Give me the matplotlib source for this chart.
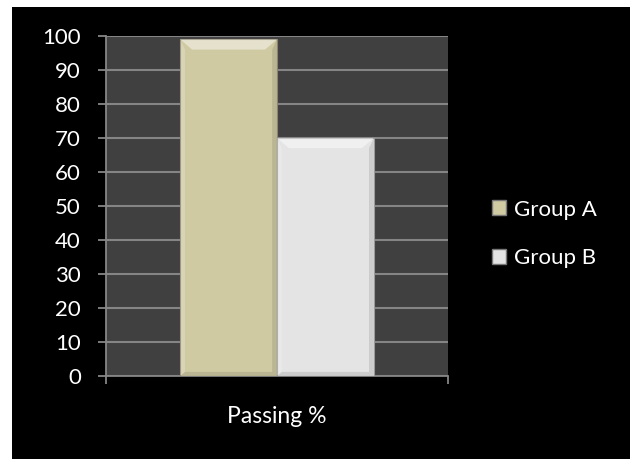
import matplotlib.pyplot as plt
from matplotlib.patches import Patch, Polygon

categories = ['Passing %']
groups = ['Group A', 'Group B']
values = [99, 70]
colors = ['#d0caa3', '#e4e4e4']
yticks = list(range(0, 101, 10))

plt.rcParams['font.family'] = ['Lato', 'DejaVu Sans']

fig = plt.figure(figsize=(6.3, 4.59), dpi=100)
fig.patch.set_facecolor('white')
# black chart area (the picture is a cropped screenshot with a white rim)
fig.patches.append(plt.Rectangle((12 / 630, 0), 1, 1 - 7 / 459, transform=fig.transFigure,
                                 facecolor='black', edgecolor='none', zorder=-10))

ax = fig.add_axes([106 / 630, 1 - 376 / 459, (448 - 106) / 630, (376 - 36) / 459])
ax.set_facecolor('#404040')

width = 0.283
offsets = [-width / 2, width / 2]
for val, off, col in zip(values, offsets, colors):
    bars = ax.bar(off, val, width=width, color=col, edgecolor='#8a8670' if col == colors[0] else '#9a9a9a',
                  linewidth=0.8, zorder=3)
    # simple bevel round the bar
    b = bars[0]
    x0, x1 = b.get_x(), b.get_x() + b.get_width()
    h = b.get_height()
    dx = 0.035
    dy = 3.0
    ax.add_patch(Polygon([(x0, h), (x1, h), (x1 - dx, h - dy), (x0 + dx, h - dy)],
                         closed=True, facecolor='white', alpha=0.45, edgecolor='none', zorder=4))
    ax.add_patch(Polygon([(x0, h), (x0, 0), (x0 + dx * 0.4, dy * 0.4), (x0 + dx * 0.4, h - dy)],
                         closed=True, facecolor='white', alpha=0.2, edgecolor='none', zorder=4))
    ax.add_patch(Polygon([(x1, h), (x1, 0), (x1 - dx * 0.4, dy * 0.4), (x1 - dx * 0.4, h - dy)],
                         closed=True, facecolor='black', alpha=0.10, edgecolor='none', zorder=4))
    ax.add_patch(Polygon([(x0, 0), (x1, 0), (x1 - dx * 0.4, dy * 0.4), (x0 + dx * 0.4, dy * 0.4)],
                         closed=True, facecolor='black', alpha=0.10, edgecolor='none', zorder=4))

ax.set_xlim(-0.5, 0.5)
ax.set_ylim(0, 100)
ax.set_yticks(yticks)
ax.set_yticklabels([str(t) for t in yticks], color='white', fontsize=16)
ax.set_xticks([-0.5, 0.5])
ax.set_xticklabels([])
ax.tick_params(axis='y', colors='#868686', labelcolor='white', length=6, width=1.3,
               direction='out', pad=12)
ax.tick_params(axis='x', colors='#868686', length=6, width=1.3, direction='out')
ax.yaxis.grid(True, color='#858585', linewidth=1.5, zorder=1)
ax.set_axisbelow(True)
for s in ['top', 'right']:
    ax.spines[s].set_visible(False)
for s in ['left', 'bottom']:
    ax.spines[s].set_color('#868686')
    ax.spines[s].set_linewidth(1.3)

ax.text(0, -0.12, categories[0], transform=ax.get_xaxis_transform(), ha='center', va='center',
        color='white', fontsize=16.5)

handles = [Patch(facecolor=c, edgecolor='#777777') for c in colors]
leg = fig.legend(handles, groups, loc='center left', bbox_to_anchor=(472 / 630, 1 - 234 / 459),
                 frameon=False, fontsize=16, labelcolor='white', handlelength=0.65, handleheight=0.65,
                 handletextpad=0.35, labelspacing=1.3)

fig.savefig('out.png', dpi=100, facecolor=fig.get_facecolor())
